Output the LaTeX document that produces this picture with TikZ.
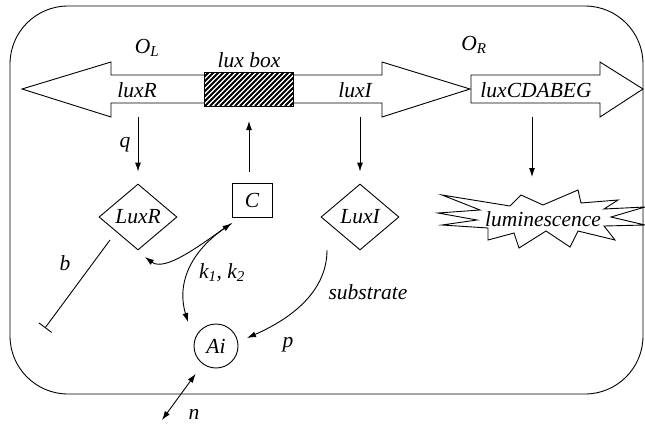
\documentclass[tikz,border=0pt]{standalone}
\usepackage{fontspec}
\setmainfont{Liberation Serif}
\usetikzlibrary{arrows.meta,shapes.geometric}

\tikzset{
  lbl/.style={font=\fontsize{21.5}{24}\selectfont\itshape, inner sep=0pt},
  prot/.style={draw, diamond, lbl, minimum width=78pt, minimum height=66pt},
  link/.style={-{Latex[length=9pt,width=6pt]}},
  twoway/.style={{Latex[length=9pt,width=6pt]}-{Latex[length=9pt,width=6pt]}},
}

\begin{document}
\begin{tikzpicture}[x=1pt,y=-1pt,line width=0.9pt]
\useasboundingbox (0,0) rectangle (645,426);

% cell
\draw[rounded corners=58pt] (10,6) rectangle (643,394);

% operons
\draw (204,75) -- (111,75) -- (111,62) -- (22,89) -- (111,117) -- (111,103) -- (204,103);
\draw (293,75) -- (382,75) -- (382,62) -- (470,89) -- (382,117) -- (382,103) -- (293,103);
\draw (471,75) -- (600,75) -- (600,62) -- (643,89) -- (600,117) -- (600,103) -- (471,103) -- cycle;

% lux box
\begin{scope}
  \clip (204,72) rectangle (293,106);
  \foreach \s in {0,5,...,125}
    \draw[line width=1.8pt] (170+\s,106) -- (204+\s,72);
\end{scope}
\draw (204,72) rectangle (293,106);

\node[lbl] (OL) at (147,48) {O\textsubscript{L}};
\node[lbl] (boxlbl) at (249,60) {lux box};
\node[lbl] (luxRgene) at (137,90) {luxR};
\node[lbl] (luxIgene) at (355,90) {luxI};
\node[lbl] (OR) at (474,45) {O\textsubscript{R}};
\node[lbl] (luxCgene) at (536,90) {luxCDABEG};

% proteins and signal
\node[prot] (LuxR) at (138,217) {LuxR};
\node[draw, lbl, minimum width=40pt, minimum height=34pt] (C) at (252,200) {C};
\node[prot] (LuxI) at (360,217) {LuxI};
\node[draw, circle, lbl, minimum size=44pt] (Ai) at (216,346) {Ai};

% luminescence burst
\draw (442,195) -- (510,206) -- (521,195) -- (543,205) -- (578,190) -- (581,203)
  -- (618,200) -- (604,209) -- (645,207) -- (611,217) -- (645,225) -- (604,226)
  -- (615,240) -- (578,231) -- (570,247) -- (546,231) -- (519,248) -- (514,233)
  -- (488,240) -- (488,228) -- (442,225) -- (477,220) -- (438,213) -- (480,210) -- cycle;
\node[lbl] (lum) at (543,219) {luminescence};

% arrows from the operons
\coordinate (qtop) at (138,117);
\coordinate (itop) at (360,117);
\coordinate (ctop) at (532,117);
\coordinate (lumtop) at (532,177);
\coordinate (cend) at (249,121);
\draw[link, shorten >=12pt] (qtop) -- (LuxR.north);
\draw[link] ([shift={(-3,-11)}]C.north) -- (cend);
\draw[link, shorten >=12pt] (itop) -- (LuxI.north);
\draw[link] (ctop) -- (lumtop);
\node[lbl] (q) at (125,145) {q};

% repression
\coordinate (bend) at (45,328);
\draw[-{Bar[width=16pt]}] ([shift={(-28,23)}]LuxR.center) -- (bend);
\node[lbl] (b) at (65,263) {b};

% binding and synthesis
\draw[twoway] ([shift={(0,6)}]C.south west) .. controls +(-32,22) and +(20,15) .. ([shift={(7,40)}]LuxR.center);
\draw[link] ([shift={(0,6)}]C.south west) .. controls +(-40,25) and +(-12,-40) .. ([shift={(-28,-24)}]Ai.center);
\node[lbl] (k) at (222,273) {k\textsubscript{1}, k\textsubscript{2}};
\draw[link] ([shift={(-33,33)}]LuxI.center) .. controls +(0,38) and +(50,-22) .. ([shift={(31,-8)}]Ai.center);
\node[lbl] (sub) at (368,292) {substrate};
\node[lbl] (p) at (288,345) {p};

% diffusion
\coordinate (nend) at (162,420);
\draw[twoway, shorten <=12pt] (Ai) -- (nend);
\node[lbl] (n) at (194,414) {n};
\end{tikzpicture}
\end{document}
